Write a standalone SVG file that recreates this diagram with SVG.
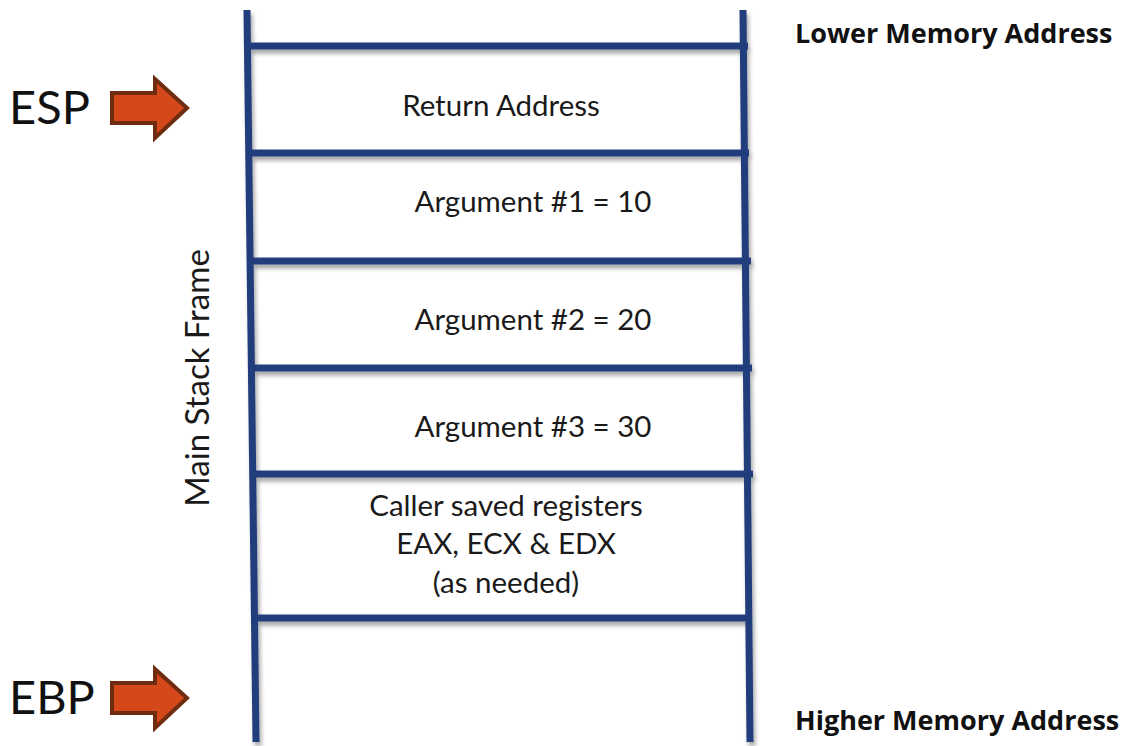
<svg xmlns="http://www.w3.org/2000/svg" width="1128" height="746" viewBox="0 0 1128 746">
<defs>
<filter id="sh" x="-5%" y="-5%" width="110%" height="110%">
<feDropShadow dx="2" dy="4" stdDeviation="2" flood-color="#000" flood-opacity="0.35"/>
</filter>
</defs>
<style>
.ln{stroke:#223e7c;stroke-width:7;fill:none;stroke-linecap:butt}
.t{font-family:Lato,"Open Sans",sans-serif;font-size:29.5px;fill:#1a1a1a;text-anchor:middle}
.b{font-family:"Open Sans","DejaVu Sans",sans-serif;font-weight:bold;font-size:27px;fill:#111}
.reg{font-family:Lato,"Open Sans",sans-serif;font-size:47px;fill:#111}
.arr{fill:#d4481a;stroke:#6e2c10;stroke-width:4;stroke-linejoin:miter}
</style>
<rect width="1128" height="746" fill="#fff"/>
<g id="connectors" filter="url(#sh)">
<line class="ln" x1="247" y1="10" x2="256" y2="742"/>
<line class="ln" x1="743" y1="10" x2="750" y2="742"/>
<line class="ln" x1="248" y1="46" x2="748" y2="46"/>
<line class="ln" x1="249" y1="153" x2="749" y2="153"/>
<line class="ln" x1="251" y1="261" x2="751" y2="261"/>
<line class="ln" x1="252" y1="368" x2="752" y2="368"/>
<line class="ln" x1="253" y1="474" x2="753" y2="474"/>
<line class="ln" x1="255" y1="618" x2="752" y2="618"/>
</g>
<g id="return-address"><text class="t" x="501" y="116">Return Address</text></g>
<g id="arg1"><text class="t" x="533" y="212">Argument #1 = 10</text></g>
<g id="arg2"><text class="t" x="533" y="330">Argument #2 = 20</text></g>
<g id="arg3"><text class="t" x="533" y="437">Argument #3 = 30</text></g>
<g id="caller-saved">
<text class="t" x="506" y="516">Caller saved registers</text>
<text class="t" x="506" y="554">EAX, ECX &amp; EDX</text>
<text class="t" x="506" y="593">(as needed)</text>
</g>
<g id="main-stack-frame"><text class="t" transform="translate(209,378) rotate(-90)" style="font-size:33px">Main Stack Frame</text></g>
<g id="esp">
<text class="reg" x="9" y="124">ESP</text>
<polygon class="arr" points="112,93 155,93 155,79 187,108 155,138 155,123 112,123"/>
</g>
<g id="ebp">
<text class="reg" x="9" y="714">EBP</text>
<polygon class="arr" points="112,683 155,683 155,669 187,698 155,728 155,713 112,713"/>
</g>
<g id="lower"><text class="b" x="795" y="43">Lower Memory Address</text></g>
<g id="higher"><text class="b" x="795" y="730">Higher Memory Address</text></g>
</svg>
